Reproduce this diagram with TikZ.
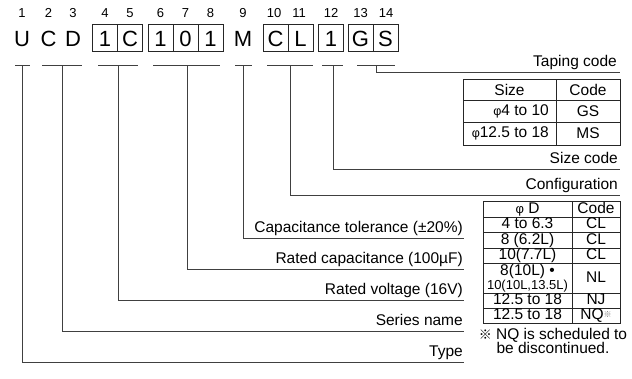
\documentclass[tikz,border=0pt]{standalone}
\usepackage{fontspec}
\setmainfont{Liberation Sans}
\newfontfamily\cjk{Noto Sans CJK JP}
\begin{document}
\begin{tikzpicture}[x=1pt,y=-1pt,
  ln/.style={line width=0.8pt, draw=black!75},
  tb/.style={line width=0.9pt, draw=black!85},
  letter/.style={font=\fontsize{22}{22}\selectfont, inner sep=0pt, outer sep=0pt,
    minimum width=25pt, minimum height=27pt, text height=17pt, text depth=0pt},
  boxed/.style={letter, draw=black!85, line width=0.9pt},
  num/.style={font=\fontsize{13}{13}\selectfont, inner sep=0pt, anchor=base},
  lab/.style={font=\fontsize{15.5}{15.5}\selectfont, inner sep=0pt, anchor=base east},
  cella/.style={font=\fontsize{15.5}{15.5}\selectfont, inner sep=0pt},
  cellb/.style={font=\fontsize{15.5}{15.5}\selectfont, inner sep=0pt, text height=11pt, text depth=2.5pt},
]
\useasboundingbox (0,0) rectangle (632,378);

% position numbers
\foreach \i/\x in {1/22,2/48.5,3/73,4/105,5/130,6/160.5,7/185.5,8/210.5,9/243,10/274,11/299,12/331,13/360.5,14/386}
  \node[num] (n\i) at (\x,17) {\i};

% code letters
\node[letter] (c1) at (22,37.5) {U};
\node[letter] (c2) at (48.5,37.5) {C};
\node[letter] (c3) at (73,37.5) {D};
\node[boxed] (c4) at (105,37.5) {1};
\node[boxed] (c5) at (130,37.5) {C};
\node[boxed] (c6) at (160.5,37.5) {1};
\node[boxed] (c7) at (185.5,37.5) {0};
\node[boxed] (c8) at (210.5,37.5) {1};
\node[letter] (c9) at (243,37.5) {M};
\node[boxed] (c10) at (275.5,37.5) {C};
\node[boxed] (c11) at (300.5,37.5) {L};
\node[boxed] (c12) at (331,37.5) {1};
\node[boxed] (c13) at (360.5,37.5) {G};
\node[boxed] (c14) at (385.5,37.5) {S};

% underlines
\foreach \n/\a/\m/\b in {ua/15/22.5/30, ub/42/62/82, uc/98/118/138, ud/153/187/220,
                         ue/235/243/252, uf/267/290/313, ug/322/333/343, uh/357/376/395} {
  \coordinate (\n L) at (\a,65);
  \coordinate (\n) at (\m,65);
  \coordinate (\n R) at (\b,65);
  \draw[ln] (\n L) -- (\n R);
}

% line ends
\coordinate (ea) at (464,362);
\coordinate (eb) at (464,331);
\coordinate (ec) at (464,300);
\coordinate (ed) at (464,269);
\coordinate (ee) at (464,238);
\coordinate (ef) at (620,195);
\coordinate (eg) at (620,169);
\coordinate (eh) at (620,72);

% connectors
\draw[ln] (ua) |- (ea);
\draw[ln] (ub) |- (eb);
\draw[ln] (uc) |- (ec);
\draw[ln] (ud) |- (ed);
\draw[ln] (ue) |- (ee);
\draw[ln] (uf) |- (ef);
\draw[ln] (ug) |- (eg);
\draw[ln] (uh) |- (eh);

% labels
\node[lab] (la) at (463,356) {Type};
\node[lab] (lb) at (463,325) {Series name};
\node[lab] (lc) at (463,294) {Rated voltage (16V)};
\node[lab] (ld) at (463,263) {Rated capacitance (100µF)};
\node[lab] (le) at (463,232) {Capacitance tolerance (±20\%)};
\node[lab] (lf) at (618,189) {Configuration};
\node[lab] (lg) at (618,163) {Size code};
\node[lab] (lh) at (617,66) {Taping code};

% taping table
\draw[tb] (463,79) rectangle (620,145);
\draw[tb] (463,100) -- (620,100);
\draw[tb] (463,122) -- (620,122);
\draw[tb] (556,79) -- (556,145);
\node[cella] (t1a) at (509.5,89.5) {Size};
\node[cella] (t1b) at (588,89.5) {Code};
\node[cella, anchor=east] (t2a) at (549,111) {{\fontsize{12.5}{12.5}\selectfont φ}4 to 10};
\node[cella] (t2b) at (588,111) {GS};
\node[cella, anchor=east] (t3a) at (549,133.5) {{\fontsize{12.5}{12.5}\selectfont φ}12.5 to 18};
\node[cella] (t3b) at (588,133.5) {MS};

% configuration table
\draw[tb] (483,201) rectangle (620,323);
\foreach \y in {217,232,248,263,293,308}
  \draw[tb] (483,\y) -- (620,\y);
\draw[tb] (572,201) -- (572,323);
\node[cellb] (r0a) at (527.5,209) {{\fontsize{13}{13}\selectfont φ} D};
\node[cellb] (r0b) at (596,209) {Code};
\node[cellb] (r1a) at (527.5,224.5) {4 to 6.3};
\node[cellb] (r1b) at (596,224.5) {CL};
\node[cellb] (r2a) at (527.5,240) {8 (6.2L)};
\node[cellb] (r2b) at (596,240) {CL};
\node[cellb] (r3a) at (527.5,255.5) {10(7.7L)};
\node[cellb] (r3b) at (596,255.5) {CL};
\node[cellb] (r4a) at (527.5,271) {8(10L) •};
\node[cellb, font=\fontsize{13}{13}\selectfont, text height=9.5pt, text depth=2.5pt] (r4c) at (527.5,285.5) {10(10L,13.5L)};
\node[cellb] (r4b) at (596,278) {NL};
\node[cellb] (r5a) at (527.5,300.5) {12.5 to 18};
\node[cellb] (r5b) at (596,300.5) {NJ};
\node[cellb] (r6a) at (527.5,315.5) {12.5 to 18};
\node[cellb] (r6b) at (596,315.5) {NQ\raisebox{2pt}{\textcolor{black!55}{\cjk\fontsize{8}{8}\selectfont ※}}};

% footnote
\node[font=\fontsize{15.5}{15.5}\selectfont, inner sep=0pt, align=center] (fn) at (553,341) {{\cjk\fontsize{13}{13}\selectfont ※} NQ is scheduled to\\[-1pt]be discontinued.};
\end{tikzpicture}
\end{document}
